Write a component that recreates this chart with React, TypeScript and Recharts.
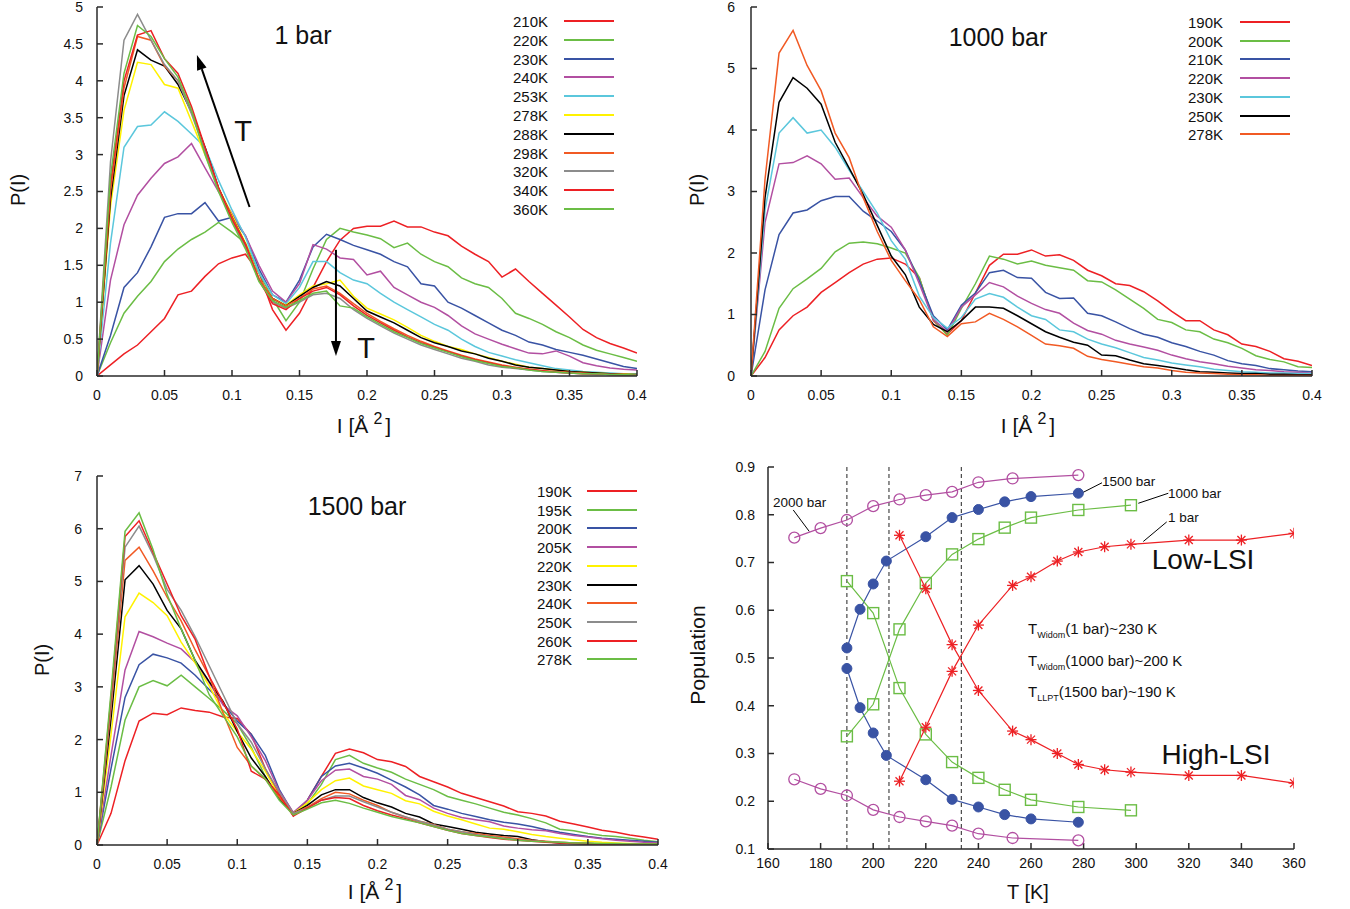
import React from "react";
import { LineChart, Line, XAxis, YAxis, ReferenceLine } from "recharts";

const RED = "#ed2024";
const GREEN = "#6bbd45";
const BLUE = "#3953a4";
const MAGENTA = "#b24fa1";
const CYAN = "#5bc7dc";
const YELLOW = "#fff200";
const BLACK = "#000000";
const ORANGE = "#f15a24";
const GRAY = "#8c8c8c";
const AXIS = "#2a2a2a";
const FONT = "'Liberation Sans', Arial, sans-serif";

// I grid (Å^2) shared by every P(I) curve
const I_VALUES = [0, 0.01, 0.02, 0.03, 0.04, 0.05, 0.06, 0.07, 0.08, 0.09, 0.1, 0.11, 0.12, 0.13, 0.14, 0.15, 0.16, 0.17, 0.18, 0.19, 0.2, 0.21, 0.22, 0.23, 0.24, 0.25, 0.26, 0.27, 0.28, 0.29, 0.3, 0.31, 0.32, 0.33, 0.34, 0.35, 0.36, 0.37, 0.38, 0.39, 0.4];
const I_TICKS = [0, 0.05, 0.1, 0.15, 0.2, 0.25, 0.3, 0.35, 0.4];

// ---- 1 bar ----
const bar1_210K = [0, 0.15, 0.3, 0.42, 0.6, 0.78, 1.1, 1.15, 1.35, 1.52, 1.6, 1.65, 1.4, 0.9, 0.62, 0.85, 1.2, 1.55, 1.84, 2.0, 2.03, 2.03, 2.1, 2.02, 2.02, 1.95, 1.9, 1.76, 1.65, 1.55, 1.34, 1.45, 1.28, 1.12, 0.96, 0.8, 0.63, 0.52, 0.44, 0.38, 0.31];
const bar1_220K = [0, 0.45, 0.85, 1.08, 1.28, 1.55, 1.72, 1.85, 1.95, 2.08, 1.95, 1.8, 1.4, 1.05, 0.75, 1.0, 1.45, 1.85, 2.0, 1.95, 1.91, 1.86, 1.74, 1.8, 1.65, 1.55, 1.48, 1.33, 1.25, 1.2, 1.05, 0.85, 0.78, 0.7, 0.6, 0.52, 0.42, 0.35, 0.3, 0.25, 0.2];
const bar1_230K = [0, 0.55, 1.2, 1.4, 1.75, 2.15, 2.2, 2.2, 2.35, 2.1, 2.15, 1.9, 1.45, 1.1, 1.0, 1.3, 1.75, 1.92, 1.85, 1.77, 1.71, 1.65, 1.55, 1.48, 1.25, 1.22, 1.0, 0.92, 0.82, 0.72, 0.62, 0.55, 0.46, 0.42, 0.36, 0.32, 0.28, 0.23, 0.18, 0.13, 0.1];
const bar1_240K = [0, 1.3, 2.05, 2.45, 2.68, 2.88, 2.97, 3.15, 2.82, 2.5, 2.2, 1.9, 1.5, 1.15, 1.0, 1.25, 1.78, 1.72, 1.6, 1.58, 1.37, 1.42, 1.2, 1.1, 1.0, 0.93, 0.82, 0.68, 0.57, 0.5, 0.43, 0.37, 0.31, 0.3, 0.34, 0.27, 0.18, 0.14, 0.11, 0.09, 0.08];
const bar1_253K = [0, 1.8, 3.1, 3.38, 3.4, 3.58, 3.45, 3.28, 3.1, 2.65, 2.25, 1.88, 1.4, 1.1, 0.98, 1.2, 1.55, 1.55, 1.4, 1.3, 1.25, 1.12, 1.0, 0.9, 0.8, 0.7, 0.62, 0.5, 0.4, 0.32, 0.27, 0.22, 0.18, 0.14, 0.1, 0.08, 0.06, 0.05, 0.04, 0.03, 0.03];
const bar1_278K = [0, 2.3, 3.6, 4.25, 4.22, 3.95, 3.9, 3.45, 3.0, 2.55, 2.18, 1.8, 1.32, 1.05, 0.96, 1.1, 1.22, 1.25, 1.3, 1.08, 0.92, 0.84, 0.76, 0.66, 0.55, 0.47, 0.4, 0.36, 0.3, 0.25, 0.2, 0.16, 0.12, 0.1, 0.08, 0.06, 0.05, 0.04, 0.03, 0.03, 0.02];
const bar1_288K = [0, 2.4, 3.8, 4.42, 4.28, 4.2, 3.95, 3.58, 3.1, 2.55, 2.15, 1.78, 1.3, 1.05, 0.95, 1.08, 1.2, 1.28, 1.22, 1.05, 0.88, 0.8, 0.72, 0.62, 0.52, 0.45, 0.4, 0.34, 0.3, 0.24, 0.2, 0.15, 0.12, 0.1, 0.08, 0.06, 0.05, 0.04, 0.03, 0.02, 0.02];
const bar1_298K = [0, 2.5, 3.9, 4.6, 4.55, 4.2, 4.0, 3.6, 3.05, 2.55, 2.15, 1.78, 1.32, 1.05, 0.95, 1.05, 1.18, 1.22, 1.12, 0.98, 0.85, 0.74, 0.64, 0.55, 0.47, 0.4, 0.34, 0.28, 0.23, 0.19, 0.15, 0.12, 0.09, 0.07, 0.06, 0.05, 0.04, 0.03, 0.02, 0.02, 0.01];
const bar1_320K = [0, 2.9, 4.55, 4.9, 4.55, 4.22, 4.0, 3.55, 3.05, 2.52, 2.1, 1.75, 1.3, 1.0, 0.92, 1.0, 1.1, 1.12, 1.05, 0.9, 0.78, 0.68, 0.58, 0.5, 0.42, 0.36, 0.3, 0.24, 0.2, 0.15, 0.12, 0.1, 0.08, 0.06, 0.05, 0.04, 0.03, 0.02, 0.02, 0.01, 0.01];
const bar1_340K = [0, 2.6, 4.0, 4.62, 4.68, 4.3, 4.1, 3.65, 3.1, 2.55, 2.12, 1.78, 1.3, 0.98, 0.9, 1.05, 1.15, 1.2, 1.1, 0.95, 0.82, 0.72, 0.62, 0.53, 0.45, 0.39, 0.33, 0.27, 0.22, 0.18, 0.14, 0.11, 0.09, 0.07, 0.05, 0.04, 0.03, 0.03, 0.02, 0.02, 0.01];
const bar1_360K = [0, 2.7, 4.1, 4.75, 4.6, 4.3, 4.05, 3.6, 3.0, 2.5, 2.08, 1.72, 1.28, 1.02, 0.93, 1.02, 1.12, 1.15, 0.95, 0.92, 0.8, 0.7, 0.6, 0.52, 0.44, 0.38, 0.32, 0.26, 0.21, 0.17, 0.13, 0.11, 0.08, 0.06, 0.05, 0.04, 0.03, 0.03, 0.02, 0.02, 0.01];

// ---- 1000 bar ----
const bar1000_190K = [0, 0.3, 0.75, 0.98, 1.12, 1.36, 1.52, 1.68, 1.82, 1.9, 1.92, 1.82, 1.6, 0.9, 0.68, 0.9, 1.35, 1.8, 1.98, 1.98, 2.05, 1.95, 1.97, 1.88, 1.72, 1.63, 1.5, 1.47, 1.37, 1.22, 1.05, 0.9, 0.9, 0.75, 0.67, 0.52, 0.48, 0.4, 0.28, 0.24, 0.17];
const bar1000_200K = [0, 0.4, 1.1, 1.42, 1.58, 1.75, 2.02, 2.16, 2.18, 2.15, 2.08, 2.0, 1.6, 0.92, 0.66, 1.1, 1.5, 1.95, 1.9, 1.82, 1.87, 1.8, 1.76, 1.72, 1.55, 1.53, 1.4, 1.25, 1.1, 0.92, 0.87, 0.75, 0.72, 0.6, 0.54, 0.45, 0.33, 0.27, 0.23, 0.15, 0.14];
const bar1000_210K = [0, 1.4, 2.3, 2.65, 2.7, 2.85, 2.92, 2.92, 2.68, 2.52, 2.35, 2.05, 1.55, 0.98, 0.75, 1.15, 1.35, 1.68, 1.72, 1.6, 1.59, 1.36, 1.26, 1.27, 1.02, 0.98, 0.88, 0.77, 0.68, 0.63, 0.54, 0.48, 0.4, 0.34, 0.25, 0.2, 0.17, 0.12, 0.1, 0.08, 0.07];
const bar1000_220K = [0, 2.5, 3.45, 3.47, 3.58, 3.45, 3.2, 3.22, 2.9, 2.6, 2.42, 2.05, 1.5, 0.92, 0.72, 1.12, 1.32, 1.52, 1.45, 1.3, 1.18, 1.08, 1.02, 0.86, 0.74, 0.68, 0.58, 0.52, 0.47, 0.42, 0.34, 0.28, 0.23, 0.2, 0.16, 0.13, 0.1, 0.09, 0.07, 0.06, 0.05];
const bar1000_230K = [0, 2.7, 3.95, 4.2, 3.95, 4.0, 3.72, 3.35, 3.0, 2.65, 2.2, 1.9, 1.3, 0.95, 0.78, 0.95, 1.25, 1.34, 1.28, 1.12, 0.98, 0.92, 0.75, 0.72, 0.6, 0.52, 0.46, 0.38, 0.3, 0.26, 0.21, 0.18, 0.15, 0.11, 0.09, 0.07, 0.06, 0.05, 0.05, 0.04, 0.04];
const bar1000_250K = [0, 2.9, 4.45, 4.85, 4.68, 4.42, 3.8, 3.38, 2.95, 2.45, 1.95, 1.65, 1.12, 0.84, 0.72, 0.9, 1.12, 1.12, 1.1, 0.98, 0.85, 0.72, 0.63, 0.55, 0.5, 0.34, 0.33, 0.26, 0.2, 0.17, 0.14, 0.1, 0.07, 0.06, 0.05, 0.04, 0.04, 0.03, 0.03, 0.02, 0.02];
const bar1000_278K = [0, 3.2, 5.25, 5.62, 5.05, 4.64, 3.95, 3.55, 2.9, 2.35, 1.88, 1.55, 1.24, 0.8, 0.64, 0.85, 0.88, 1.02, 0.92, 0.8, 0.66, 0.52, 0.49, 0.45, 0.32, 0.27, 0.23, 0.19, 0.15, 0.13, 0.09, 0.06, 0.05, 0.04, 0.03, 0.02, 0.02, 0.01, 0.01, 0.01, 0.01];

// ---- 1500 bar ----
const bar1500_190K = [0, 0.6, 1.6, 2.35, 2.5, 2.47, 2.6, 2.55, 2.52, 2.43, 2.4, 2.1, 1.45, 0.95, 0.55, 0.85, 1.3, 1.74, 1.82, 1.75, 1.62, 1.58, 1.49, 1.3, 1.2, 1.1, 0.98, 0.9, 0.82, 0.74, 0.63, 0.6, 0.55, 0.45, 0.4, 0.34, 0.28, 0.24, 0.19, 0.15, 0.11];
const bar1500_195K = [0, 1.1, 2.37, 3.0, 3.12, 3.02, 3.22, 3.0, 2.78, 2.55, 2.3, 1.85, 1.3, 0.88, 0.6, 0.78, 1.15, 1.62, 1.7, 1.55, 1.46, 1.38, 1.25, 1.15, 1.05, 0.92, 0.85, 0.78, 0.7, 0.62, 0.57, 0.5, 0.42, 0.3, 0.27, 0.22, 0.18, 0.16, 0.13, 0.09, 0.06];
const bar1500_200K = [0, 1.45, 2.8, 3.42, 3.62, 3.55, 3.45, 3.22, 2.95, 2.69, 2.35, 2.1, 1.7, 1.05, 0.6, 0.85, 1.3, 1.5, 1.55, 1.46, 1.36, 1.23, 1.1, 0.95, 0.75, 0.68, 0.6, 0.54, 0.48, 0.43, 0.4, 0.35, 0.29, 0.24, 0.2, 0.16, 0.13, 0.11, 0.09, 0.07, 0.05];
const bar1500_205K = [0, 1.7, 3.32, 4.05, 3.95, 3.83, 3.72, 3.47, 3.08, 2.65, 2.45, 2.05, 1.6, 1.02, 0.62, 0.85, 1.22, 1.42, 1.44, 1.3, 1.25, 1.15, 0.94, 0.86, 0.7, 0.6, 0.52, 0.48, 0.44, 0.36, 0.32, 0.29, 0.27, 0.22, 0.18, 0.15, 0.12, 0.09, 0.07, 0.05, 0.04];
const bar1500_220K = [0, 2.1, 4.33, 4.78, 4.6, 4.35, 3.85, 3.45, 3.02, 2.5, 2.15, 1.82, 1.4, 0.92, 0.6, 0.8, 1.05, 1.22, 1.27, 1.12, 1.05, 0.98, 0.84, 0.78, 0.64, 0.55, 0.48, 0.4, 0.32, 0.3, 0.25, 0.2, 0.16, 0.13, 0.1, 0.07, 0.05, 0.04, 0.03, 0.02, 0.02];
const bar1500_230K = [0, 2.4, 5.03, 5.3, 4.95, 4.45, 4.1, 3.5, 3.1, 2.72, 2.15, 1.65, 1.3, 0.88, 0.6, 0.75, 0.95, 1.05, 1.05, 0.9, 0.8, 0.72, 0.6, 0.53, 0.4, 0.35, 0.3, 0.24, 0.21, 0.18, 0.16, 0.1, 0.06, 0.04, 0.03, 0.02, 0.02, 0.01, 0.01, 0.01, 0.01];
const bar1500_240K = [0, 2.6, 5.4, 5.65, 5.2, 4.7, 4.25, 3.7, 3.2, 2.5, 1.85, 1.5, 1.25, 0.9, 0.6, 0.72, 0.88, 1.0, 0.97, 0.85, 0.75, 0.62, 0.53, 0.45, 0.39, 0.3, 0.25, 0.22, 0.18, 0.15, 0.12, 0.09, 0.07, 0.05, 0.04, 0.03, 0.02, 0.02, 0.01, 0.01, 0.01];
const bar1500_250K = [0, 2.7, 5.65, 6.05, 5.5, 4.85, 4.45, 3.95, 3.4, 2.85, 2.3, 1.95, 1.45, 1.0, 0.6, 0.7, 0.85, 0.93, 0.93, 0.82, 0.72, 0.62, 0.53, 0.45, 0.38, 0.3, 0.25, 0.2, 0.16, 0.13, 0.1, 0.08, 0.06, 0.05, 0.04, 0.03, 0.02, 0.02, 0.01, 0.01, 0.01];
const bar1500_260K = [0, 2.8, 5.85, 6.15, 5.55, 4.95, 4.35, 3.9, 3.2, 2.7, 2.2, 1.4, 1.25, 0.95, 0.55, 0.7, 0.85, 0.9, 0.88, 0.75, 0.65, 0.57, 0.5, 0.42, 0.35, 0.28, 0.22, 0.18, 0.14, 0.11, 0.09, 0.07, 0.05, 0.04, 0.03, 0.03, 0.02, 0.02, 0.01, 0.01, 0.01];
const bar1500_278K = [0, 2.9, 5.95, 6.3, 5.6, 4.75, 4.1, 3.5, 2.85, 2.45, 2.05, 1.5, 1.25, 0.85, 0.57, 0.68, 0.8, 0.85, 0.79, 0.7, 0.62, 0.54, 0.48, 0.42, 0.35, 0.28, 0.22, 0.18, 0.15, 0.12, 0.09, 0.07, 0.06, 0.05, 0.04, 0.04, 0.03, 0.03, 0.02, 0.02, 0.02];

// ---- population vs T ----
const T_2000 = [170, 180, 190, 200, 210, 220, 230, 240, 253, 278];
const pop2000Upper = [0.752, 0.772, 0.789, 0.818, 0.832, 0.841, 0.848, 0.868, 0.876, 0.883];
const pop2000Lower = [0.246, 0.226, 0.212, 0.182, 0.167, 0.158, 0.149, 0.132, 0.123, 0.118];
const T_1500 = [190, 195, 200, 205, 220, 230, 240, 250, 260, 278];
const pop1500Upper = [0.521, 0.602, 0.655, 0.703, 0.754, 0.794, 0.811, 0.827, 0.838, 0.845];
const pop1500Lower = [0.478, 0.396, 0.343, 0.296, 0.245, 0.204, 0.188, 0.172, 0.163, 0.156];
const T_1000 = [190, 200, 210, 220, 230, 240, 250, 260, 278, 298];
const pop1000Rising = [0.336, 0.403, 0.56, 0.657, 0.717, 0.749, 0.773, 0.794, 0.81, 0.82];
const pop1000Falling = [0.661, 0.594, 0.437, 0.34, 0.282, 0.249, 0.224, 0.203, 0.188, 0.181];
const T_1 = [210, 220, 230, 240, 253, 260, 270, 278, 288, 298, 320, 340, 360];
const pop1Rising = [0.242, 0.355, 0.472, 0.569, 0.652, 0.67, 0.703, 0.722, 0.733, 0.738, 0.747, 0.747, 0.761];
const pop1Falling = [0.757, 0.645, 0.528, 0.432, 0.347, 0.329, 0.3, 0.277, 0.266, 0.261, 0.254, 0.254, 0.238];
const T_TICKS = [160, 180, 200, 220, 240, 260, 280, 300, 320, 340, 360];
const POP_TICKS = [0.1, 0.2, 0.3, 0.4, 0.5, 0.6, 0.7, 0.8, 0.9];
const WIDOM_T = [190, 206, 233.5];

type Series = { name: string; color: string; values: number[] };
type Box = { left: number; top: number; width: number; height: number; pl: number; pt: number; pr: number; pb: number };

const series1: Series[] = [
  { name: "210K", color: RED, values: bar1_210K },
  { name: "220K", color: GREEN, values: bar1_220K },
  { name: "230K", color: BLUE, values: bar1_230K },
  { name: "240K", color: MAGENTA, values: bar1_240K },
  { name: "253K", color: CYAN, values: bar1_253K },
  { name: "278K", color: YELLOW, values: bar1_278K },
  { name: "288K", color: BLACK, values: bar1_288K },
  { name: "298K", color: ORANGE, values: bar1_298K },
  { name: "320K", color: GRAY, values: bar1_320K },
  { name: "340K", color: RED, values: bar1_340K },
  { name: "360K", color: GREEN, values: bar1_360K },
];
const series1000: Series[] = [
  { name: "190K", color: RED, values: bar1000_190K },
  { name: "200K", color: GREEN, values: bar1000_200K },
  { name: "210K", color: BLUE, values: bar1000_210K },
  { name: "220K", color: MAGENTA, values: bar1000_220K },
  { name: "230K", color: CYAN, values: bar1000_230K },
  { name: "250K", color: BLACK, values: bar1000_250K },
  { name: "278K", color: ORANGE, values: bar1000_278K },
];
const series1500: Series[] = [
  { name: "190K", color: RED, values: bar1500_190K },
  { name: "195K", color: GREEN, values: bar1500_195K },
  { name: "200K", color: BLUE, values: bar1500_200K },
  { name: "205K", color: MAGENTA, values: bar1500_205K },
  { name: "220K", color: YELLOW, values: bar1500_220K },
  { name: "230K", color: BLACK, values: bar1500_230K },
  { name: "240K", color: ORANGE, values: bar1500_240K },
  { name: "250K", color: GRAY, values: bar1500_250K },
  { name: "260K", color: RED, values: bar1500_260K },
  { name: "278K", color: GREEN, values: bar1500_278K },
];

const tickFont = { fill: "#111", fontSize: 14, fontFamily: FONT };

const Txt = ({ x, y, size, children, rotate, anchor = "center" }: any) => (
  <div
    style={{
      position: "absolute",
      left: x,
      top: y,
      fontSize: size,
      lineHeight: 1,
      whiteSpace: "nowrap",
      color: "#111",
      transform: `translate(${anchor === "left" ? "0" : "-50%"},-50%)${rotate ? " rotate(-90deg)" : ""}`,
    }}
  >
    {children}
  </div>
);

const IAxisTitle = ({ x, y }: { x: number; y: number }) => (
  <Txt x={x} y={y} size={21}>
    I [Å<span style={{ position: "relative", top: -9, fontSize: 16, marginLeft: 5, marginRight: 3 }}>2</span>]
  </Txt>
);

const LegendBox = ({ series, textRight, lineLeft, lineRight, top, step }: any) => (
  <>
    {series.map((s: Series, i: number) => (
      <React.Fragment key={s.name + i}>
        <div
          style={{
            position: "absolute",
            left: textRight - 70,
            width: 70,
            textAlign: "right",
            top: top + i * step,
            transform: "translateY(-50%)",
            fontSize: 15,
            lineHeight: 1,
            color: "#111",
          }}
        >
          {s.name}
        </div>
        <div style={{ position: "absolute", left: lineLeft, top: top + i * step - 1, width: lineRight - lineLeft, height: 2, background: s.color }} />
      </React.Fragment>
    ))}
  </>
);

const ArrowShape = (p: any) => {
  const { x1, y1, x2, y2 } = p;
  const a = Math.atan2(y2 - y1, x2 - x1);
  const len = 15;
  const half = 5;
  const bx = x2 - len * Math.cos(a);
  const by = y2 - len * Math.sin(a);
  const nx = -Math.sin(a) * half;
  const ny = Math.cos(a) * half;
  return (
    <g>
      <line x1={x1} y1={y1} x2={bx} y2={by} stroke="#000" strokeWidth={2} />
      <polygon points={`${x2},${y2} ${bx + nx},${by + ny} ${bx - nx},${by - ny}`} fill="#000" />
    </g>
  );
};

function DistChart({ box, series, yMax, yTicks, yTickMargin, children }: { box: Box; series: Series[]; yMax: number; yTicks: number[]; yTickMargin: number; children?: React.ReactNode }) {
  const rows = I_VALUES.map((x, i) => {
    const r: Record<string, number> = { I: x };
    series.forEach((s, k) => {
      r["s" + k] = s.values[i];
    });
    return r;
  });
  return (
    <div style={{ position: "absolute", left: box.left, top: box.top }}>
      <LineChart
        width={box.width}
        height={box.height}
        data={rows}
        margin={{ top: box.pt - box.top, right: box.left + box.width - box.pr, bottom: 0, left: 0 }}
      >
        <XAxis xAxisId="b" type="number" dataKey="I" domain={[0, 0.4]} ticks={I_TICKS} interval={0}
          height={box.top + box.height - box.pb} tickSize={-6} tickMargin={20}
          stroke={AXIS} strokeWidth={1.5} tick={tickFont} allowDataOverflow />
        <XAxis xAxisId="t" orientation="top" type="number" dataKey="I" domain={[0, 0.4]} ticks={I_TICKS} interval={0}
          height={0} tickSize={-6} tick={false} stroke={AXIS} strokeWidth={1.5} allowDataOverflow />
        <YAxis yAxisId="l" type="number" domain={[0, yMax]} ticks={yTicks} interval={0}
          width={box.pl - box.left} tickSize={-6} tickMargin={yTickMargin}
          stroke={AXIS} strokeWidth={1.5} tick={tickFont} allowDataOverflow />
        <YAxis yAxisId="r" orientation="right" type="number" domain={[0, yMax]} ticks={yTicks} interval={0}
          width={0} tickSize={-6} tick={false} stroke={AXIS} strokeWidth={1.5} allowDataOverflow />
        {series.map((s, k) => (
          <Line key={s.name + k} xAxisId="b" yAxisId="l" type="linear" dataKey={"s" + k}
            stroke={s.color} strokeWidth={1.5} dot={false} isAnimationActive={false} />
        ))}
        {children}
      </LineChart>
    </div>
  );
}

const circleOpen = (p: any) => (
  <circle key={p.index} cx={p.cx} cy={p.cy} r={5.5} fill="none" stroke={MAGENTA} strokeWidth={1.3} />
);
const circleFilled = (p: any) => <circle key={p.index} cx={p.cx} cy={p.cy} r={5} fill={BLUE} stroke={BLUE} />;
const squareOpen = (p: any) => (
  <rect key={p.index} x={p.cx - 5.5} y={p.cy - 5.5} width={11} height={11} fill="none" stroke={GREEN} strokeWidth={1.4} />
);
const asterisk = (p: any) => {
  const s = 5.5;
  const d = 4;
  return (
    <g key={p.index} stroke={RED} strokeWidth={1.3}>
      <line x1={p.cx - s} y1={p.cy} x2={p.cx + s} y2={p.cy} />
      <line x1={p.cx} y1={p.cy - s} x2={p.cx} y2={p.cy + s} />
      <line x1={p.cx - d} y1={p.cy - d} x2={p.cx + d} y2={p.cy + d} />
      <line x1={p.cx - d} y1={p.cy + d} x2={p.cx + d} y2={p.cy - d} />
    </g>
  );
};

const pts = (ts: number[], vs: number[]) => ts.map((t, i) => ({ T: t, pop: vs[i] }));

const popLines = [
  { id: "2000u", data: pts(T_2000, pop2000Upper), color: MAGENTA, dot: circleOpen },
  { id: "2000l", data: pts(T_2000, pop2000Lower), color: MAGENTA, dot: circleOpen },
  { id: "1500u", data: pts(T_1500, pop1500Upper), color: BLUE, dot: circleFilled },
  { id: "1500l", data: pts(T_1500, pop1500Lower), color: BLUE, dot: circleFilled },
  { id: "1000r", data: pts(T_1000, pop1000Rising), color: GREEN, dot: squareOpen },
  { id: "1000f", data: pts(T_1000, pop1000Falling), color: GREEN, dot: squareOpen },
  { id: "1r", data: pts(T_1, pop1Rising), color: RED, dot: asterisk },
  { id: "1f", data: pts(T_1, pop1Falling), color: RED, dot: asterisk },
];

const leaders = [
  [{ x: 169.6, y: 0.81 }, { x: 175.7, y: 0.765 }],
  [{ x: 279.5, y: 0.846 }, { x: 287, y: 0.867 }],
  [{ x: 300.8, y: 0.824 }, { x: 312.2, y: 0.845 }],
  [{ x: 302.7, y: 0.744 }, { x: 311.6, y: 0.785 }],
];

function PopChart() {
  const box: Box = { left: 680, top: 455, width: 670, height: 420, pl: 768, pt: 467, pr: 1294, pb: 849 };
  return (
    <div style={{ position: "absolute", left: box.left, top: box.top }}>
      <LineChart width={box.width} height={box.height}
        margin={{ top: box.pt - box.top, right: box.left + box.width - box.pr, bottom: 0, left: 0 }}>
        <XAxis xAxisId="b" type="number" dataKey="T" domain={[160, 360]} ticks={T_TICKS} interval={0}
          height={box.top + box.height - box.pb} tickSize={-6} tickMargin={15}
          stroke={AXIS} strokeWidth={1.5} tick={tickFont} allowDataOverflow />
        <XAxis xAxisId="t" orientation="top" type="number" dataKey="T" domain={[160, 360]} ticks={T_TICKS} interval={0}
          height={0} tickSize={-6} tick={false} stroke={AXIS} strokeWidth={1.5} allowDataOverflow />
        <YAxis yAxisId="l" type="number" domain={[0.1, 0.9]} ticks={POP_TICKS} interval={0}
          width={box.pl - box.left} tickSize={-6} tickMargin={19}
          stroke={AXIS} strokeWidth={1.5} tick={tickFont} allowDataOverflow />
        <YAxis yAxisId="r" orientation="right" type="number" domain={[0.1, 0.9]} ticks={POP_TICKS} interval={0}
          width={0} tickSize={-6} tick={false} stroke={AXIS} strokeWidth={1.5} allowDataOverflow />
        {WIDOM_T.map((t) => (
          <ReferenceLine key={t} xAxisId="b" yAxisId="l" x={t} stroke="#222" strokeWidth={1} strokeDasharray="4 3" />
        ))}
        {leaders.map((seg, i) => (
          <ReferenceLine key={"ld" + i} xAxisId="b" yAxisId="l" segment={seg} stroke="#000" strokeWidth={1} ifOverflow="visible" />
        ))}
        {popLines.map((l) => (
          <Line key={l.id} xAxisId="b" yAxisId="l" data={l.data} dataKey="pop" type="linear"
            stroke={l.color} strokeWidth={1.2} dot={l.dot} isAnimationActive={false} />
        ))}
      </LineChart>
    </div>
  );
}

export default function App() {
  return (
    <div style={{ position: "absolute", left: 0, top: 0, width: 1350, height: 909, background: "#fff", fontFamily: FONT, overflow: "hidden" }}>
      <DistChart
        box={{ left: 0, top: 0, width: 660, height: 410, pl: 97, pt: 7, pr: 637, pb: 376 }}
        series={series1}
        yMax={5}
        yTicks={[0, 0.5, 1, 1.5, 2, 2.5, 3, 3.5, 4, 4.5, 5]}
        yTickMargin={20}
      >
        <ReferenceLine xAxisId="b" yAxisId="l" segment={[{ x: 0.113, y: 2.29 }, { x: 0.074, y: 4.35 }]} shape={ArrowShape} ifOverflow="visible" />
        <ReferenceLine xAxisId="b" yAxisId="l" segment={[{ x: 0.177, y: 1.71 }, { x: 0.177, y: 0.27 }]} shape={ArrowShape} ifOverflow="visible" />
      </DistChart>
      <DistChart
        box={{ left: 660, top: 0, width: 690, height: 410, pl: 751, pt: 7, pr: 1312, pb: 376 }}
        series={series1000}
        yMax={6}
        yTicks={[0, 1, 2, 3, 4, 5, 6]}
        yTickMargin={22}
      />
      <DistChart
        box={{ left: 0, top: 460, width: 680, height: 420, pl: 97, pt: 476, pr: 658, pb: 845 }}
        series={series1500}
        yMax={7}
        yTicks={[0, 1, 2, 3, 4, 5, 6, 7]}
        yTickMargin={21}
      />
      <PopChart />

      {/* panel titles and annotations */}
      <Txt x={303} y={35} size={25}>1 bar</Txt>
      <Txt x={998} y={37} size={25}>1000 bar</Txt>
      <Txt x={357} y={506} size={25}>1500 bar</Txt>
      <Txt x={243} y={131} size={29}>T</Txt>
      <Txt x={366} y={348} size={29}>T</Txt>

      <LegendBox series={series1} textRight={548} lineLeft={564} lineRight={614} top={21} step={18.8} />
      <LegendBox series={series1000} textRight={1223} lineLeft={1240} lineRight={1290} top={22} step={18.7} />
      <LegendBox series={series1500} textRight={572} lineLeft={587} lineRight={637} top={491} step={18.7} />

      {/* axis titles */}
      <Txt x={18} y={190} size={20} rotate>P(I)</Txt>
      <Txt x={697} y={190} size={20} rotate>P(I)</Txt>
      <Txt x={42} y={660} size={20} rotate>P(I)</Txt>
      <IAxisTitle x={364} y={425} />
      <IAxisTitle x={1028} y={425} />
      <IAxisTitle x={375} y={891} />
      <Txt x={697} y={655} size={21} rotate>Population</Txt>
      <Txt x={1028} y={892} size={20}>T [K]</Txt>

      {/* population panel labels */}
      <Txt x={773} y={503} size={13.5} anchor="left">2000 bar</Txt>
      <Txt x={1102} y={482} size={13.5} anchor="left">1500 bar</Txt>
      <Txt x={1168} y={494} size={13.5} anchor="left">1000 bar</Txt>
      <Txt x={1168} y={518} size={13.5} anchor="left">1 bar</Txt>
      <Txt x={1203} y={560} size={28}>Low-LSI</Txt>
      <Txt x={1216} y={755} size={28}>High-LSI</Txt>
      <Txt x={1028} y={630} size={15} anchor="left">T<sub style={{ fontSize: 9 }}>Widom</sub>(1 bar)~230 K</Txt>
      <Txt x={1028} y={662} size={15} anchor="left">T<sub style={{ fontSize: 9 }}>Widom</sub>(1000 bar)~200 K</Txt>
      <Txt x={1028} y={693} size={15} anchor="left">T<sub style={{ fontSize: 9 }}>LLPT</sub>(1500 bar)~190 K</Txt>
    </div>
  );
}
